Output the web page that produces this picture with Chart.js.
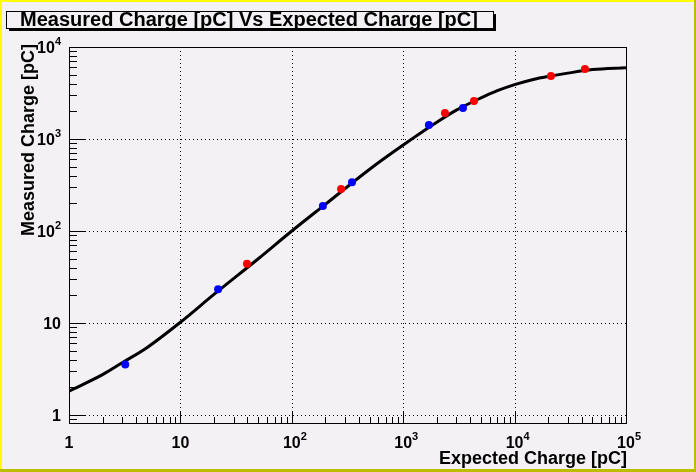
<!DOCTYPE html>
<html>
<head>
<meta charset="utf-8">
<script src="https://cdn.jsdelivr.net/npm/chart.js@4.4.1/dist/chart.umd.min.js"></script>
<style>
  html, body { margin: 0; padding: 0; background: #f4f1f4; }
  canvas { display: block; }
</style>
</head>
<body>
<canvas id="c" width="696" height="472" style="width:696px;height:472px"></canvas>
<script>
// fitted curve
const curveX = [1, 2, 3, 5, 10, 20, 50, 100, 200, 500, 1000, 2000, 3000, 5000, 7000, 10000, 15000, 20000, 30000, 50000, 100000];
const curveY = [1.82, 2.75, 3.7, 5.4, 10.2, 20.5, 50, 100, 195, 470, 860, 1520, 2060, 2800, 3350, 3900, 4470, 4790, 5200, 5680, 5960];

// measured points
const blueX = [3.2, 21.8, 190, 347, 1700, 3440];
const blueY = [3.55, 23.3, 187, 340, 1420, 2170];
const redX = [39.6, 277, 2370, 4320, 21200, 42800];
const redY = [44, 286, 1920, 2590, 4840, 5760];

// axis decades and labels
const xDecades = [1, 10, 100, 1000, 10000, 100000];
const xLabelBase = ["1", "10", "10", "10", "10", "10"];
const xLabelExp = ["", "", "2", "3", "4", "5"];
const yDecades = [1, 10, 100, 1000, 10000];
const yLabelBase = ["1", "10", "10", "10", "10"];
const yLabelExp = ["", "", "2", "3", "4"];

const titleText = "Measured Charge [pC] Vs Expected Charge [pC]";
const xTitle = "Expected Charge [pC]";
const yTitle = "Measured Charge [pC]";

const BG = "#f4f1f4";
const FONT = "'Liberation Sans', Arial, Helvetica, sans-serif";

const toXY = (xs, ys) => xs.map((x, i) => ({ x: x, y: ys[i] }));

// tick values 1..9 per decade inside [min,max]
function logTicks(min, max) {
  const out = [];
  for (let d = Math.pow(10, Math.floor(Math.log10(min))); d < max; d *= 10) {
    for (let k = 1; k <= 9; k++) {
      const v = k * d;
      if (v >= min && v <= max) out.push(v);
    }
  }
  out.push(max);
  return out;
}

const rootStyle = {
  id: "rootStyle",
  beforeDraw(chart) {
    const ctx = chart.ctx;
    const W = chart.width, H = chart.height;
    ctx.save();
    ctx.fillStyle = BG;
    ctx.fillRect(0, 0, W, H);
    // canvas bevel
    ctx.fillStyle = "#bdbd00";
    ctx.fillRect(W - 2, 0, 2, H);
    ctx.fillRect(0, H - 3, W, 3);
    ctx.fillStyle = "#ffff00";
    ctx.fillRect(0, 0, W - 2, 2);
    ctx.fillRect(0, 0, 2, H - 3);

    // title box with shadow
    ctx.fillStyle = "#000";
    ctx.fillRect(9, 14, 487, 17);
    ctx.fillStyle = BG;
    ctx.fillRect(7, 12, 487, 17);
    ctx.strokeStyle = "#000";
    ctx.lineWidth = 1;
    ctx.strokeRect(6.5, 11.5, 487, 17);
    ctx.fillStyle = "#000";
    ctx.font = "bold 20px " + FONT;
    ctx.textAlign = "center";
    ctx.textBaseline = "alphabetic";
    ctx.fillText(titleText, 249, 26);

    // dotted grid at decades
    const a = chart.chartArea;
    const xs = chart.scales.x, ys = chart.scales.y;
    ctx.strokeStyle = "#000";
    ctx.setLineDash([1, 3]);
    ctx.beginPath();
    xDecades.forEach(v => {
      const px = Math.round(xs.getPixelForValue(v)) + 0.5;
      if (px > a.left + 1 && px < a.right - 1) {
        ctx.moveTo(px, a.top); ctx.lineTo(px, a.bottom);
      }
    });
    yDecades.forEach(v => {
      const py = Math.round(ys.getPixelForValue(v)) + 0.5;
      if (py > a.top + 1 && py < a.bottom - 1) {
        ctx.moveTo(a.left, py); ctx.lineTo(a.right, py);
      }
    });
    ctx.stroke();
    ctx.restore();
  },
  afterDraw(chart) {
    const ctx = chart.ctx;
    const a = chart.chartArea;
    const xs = chart.scales.x, ys = chart.scales.y;
    ctx.save();
    ctx.strokeStyle = "#000";
    ctx.lineWidth = 1;
    ctx.setLineDash([]);
    ctx.strokeRect(Math.round(a.left) + 0.5, Math.round(a.top) + 0.5,
      Math.round(a.right - a.left), Math.round(a.bottom - a.top));

    // inward tick marks
    ctx.beginPath();
    logTicks(xs.min, xs.max).forEach(v => {
      const px = Math.round(xs.getPixelForValue(v)) + 0.5;
      const len = xDecades.includes(v) ? 11 : 6;
      ctx.moveTo(px, a.bottom); ctx.lineTo(px, a.bottom - len);
    });
    logTicks(ys.min, ys.max).forEach(v => {
      const py = Math.round(ys.getPixelForValue(v)) + 0.5;
      const len = yDecades.includes(v) ? 17 : 8;
      ctx.moveTo(a.left, py); ctx.lineTo(a.left + len, py);
    });
    ctx.stroke();

    // tick labels
    ctx.fillStyle = "#000";
    ctx.textBaseline = "alphabetic";
    ctx.textAlign = "left";
    xDecades.forEach((v, i) => {
      const px = xs.getPixelForValue(v);
      ctx.font = "bold 16px " + FONT;
      const bw = ctx.measureText(xLabelBase[i]).width;
      const x0 = px - bw / 2;
      ctx.fillText(xLabelBase[i], x0, 448);
      if (xLabelExp[i]) {
        ctx.font = "bold 11px " + FONT;
        ctx.fillText(xLabelExp[i], x0 + bw, 440);
      }
    });
    yDecades.forEach((v, i) => {
      const py = ys.getPixelForValue(v);
      ctx.font = "bold 11px " + FONT;
      const ew = yLabelExp[i] ? ctx.measureText(yLabelExp[i]).width : 0;
      ctx.font = "bold 16px " + FONT;
      const bw = ctx.measureText(yLabelBase[i]).width;
      const right = 61;
      ctx.fillText(yLabelBase[i], right - ew - bw, py + 6);
      if (ew) {
        ctx.font = "bold 11px " + FONT;
        ctx.fillText(yLabelExp[i], right - ew, py - 2);
      }
    });

    // axis titles
    ctx.font = "bold 18px " + FONT;
    ctx.textAlign = "right";
    ctx.fillText(xTitle, 627, 464);
    ctx.translate(34, 44);
    ctx.rotate(-Math.PI / 2);
    ctx.fillText(yTitle, 0, 0);
    ctx.restore();
  }
};

new Chart(document.getElementById("c"), {
  type: "scatter",
  data: {
    datasets: [
      {
        label: "fit",
        data: toXY(curveX, curveY),
        showLine: true,
        borderColor: "#000",
        borderWidth: 3,
        pointRadius: 0,
        cubicInterpolationMode: "monotone",
        order: 2
      },
      {
        label: "blue",
        data: toXY(blueX, blueY),
        backgroundColor: "#0000ff",
        borderWidth: 0,
        pointRadius: 4,
        order: 1
      },
      {
        label: "red",
        data: toXY(redX, redY),
        backgroundColor: "#ff0000",
        borderWidth: 0,
        pointRadius: 4,
        order: 1
      }
    ]
  },
  options: {
    responsive: false,
    animation: false,
    events: [],
    layout: { padding: { left: 69, top: 47, right: 70, bottom: 49 } },
    scales: {
      x: { type: "logarithmic", min: 1, max: 100000, display: false },
      y: { type: "logarithmic", min: 0.82, max: 10000, display: false }
    },
    plugins: { legend: { display: false }, tooltip: { enabled: false }, title: { display: false } }
  },
  plugins: [rootStyle]
});
</script>
</body>
</html>
